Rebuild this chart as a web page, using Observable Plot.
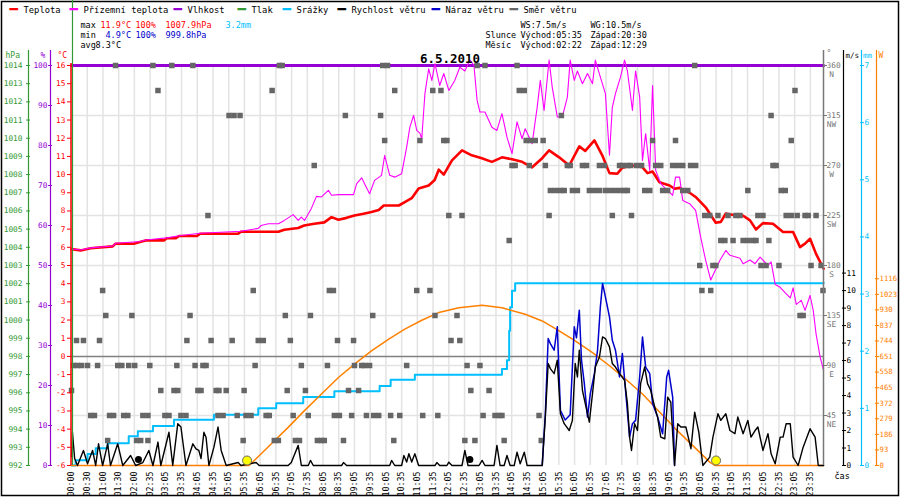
<!DOCTYPE html>
<html><head><meta charset="utf-8">
<script src="https://cdn.jsdelivr.net/npm/d3@7"></script>
<script src="https://cdn.jsdelivr.net/npm/@observablehq/plot@0.6"></script>
<style>body{margin:0;background:#fff}#chart svg{display:block}</style>
</head><body><div id="chart"></div>
<script>
// ---------- data ----------
const dayDate = "6.5.2010";
const dayStart = "00:00", dayEnd = "23:55";
const tempDomain = [-6, 16];
const timeLabels = ["00:00","00:30","01:00","01:30","02:00","02:35","03:05","03:35","04:05","04:35","05:05","05:35","06:05","06:35","07:05","07:35","08:05","08:35","09:05","09:35","10:05","10:35","11:05","11:35","12:05","12:35","13:05","13:35","14:05","14:35","15:05","15:35","16:05","16:35","17:05","17:35","18:05","18:35","19:05","19:35","20:05","20:35","21:05","21:35","22:05","22:35","23:05","23:35"];
const labelStepHours = 0.5;

const tempTimes = [0.00,0.29,0.61,1.31,1.40,1.98,2.20,2.36,2.94,3.03,3.32,3.42,3.99,4.09,5.30,5.39,6.58,6.77,7.21,7.40,7.72,8.04,8.27,8.49,8.75,9.00,9.29,9.54,9.77,9.93,10.41,10.60,10.82,11.04,11.36,11.55,11.68,11.84,12.10,12.42,12.73,13.05,13.37,13.69,14.01,14.33,14.65,14.97,15.19,15.51,15.83,16.15,16.34,16.63,16.88,17.11,17.36,17.52,17.84,18.16,18.32,18.48,18.70,19.02,19.18,19.34,19.66,19.85,20.17,20.49,20.65,20.81,21.13,21.35,21.58,21.77,21.99,22.31,22.63,22.95,23.17,23.33,23.49,23.68,23.92];
const tempValues = [5.9,5.83,5.95,6.05,6.2,6.2,6.3,6.38,6.38,6.5,6.5,6.62,6.62,6.75,6.75,6.86,6.86,6.97,7.06,7.2,7.3,7.37,7.66,7.52,7.62,7.75,7.85,7.94,8.05,8.3,8.3,8.49,8.7,9.24,9.4,9.7,10.27,10.0,10.78,11.33,11.06,10.9,10.7,10.95,10.84,10.7,10.4,10.9,11.33,10.95,10.5,11.55,11.3,11.88,11.06,10.08,10.05,10.38,10.5,10.4,10.08,10.17,9.58,9.4,9.22,9.27,9.0,8.77,8.2,7.35,7.4,7.86,7.75,7.75,7.48,6.98,7.33,7.3,6.84,6.84,6.01,6.2,6.47,5.64,4.82];

const feelTimes = [0.00,0.29,0.61,1.31,1.40,2.20,2.36,3.03,3.42,4.09,5.39,5.94,6.03,6.26,6.58,6.77,7.05,7.21,7.31,7.41,7.63,7.79,7.95,8.17,8.27,8.49,8.81,8.97,9.07,9.23,9.32,9.48,9.64,9.86,9.96,10.12,10.28,10.50,10.66,10.76,10.88,10.98,11.08,11.14,11.24,11.36,11.46,11.56,11.71,11.84,12.00,12.19,12.35,12.51,12.67,12.80,12.90,12.99,13.15,13.37,13.53,13.69,13.85,14.01,14.17,14.33,14.43,14.65,14.81,14.91,15.03,15.19,15.29,15.45,15.61,15.77,15.86,15.99,16.09,16.25,16.41,16.57,16.66,16.82,16.98,17.11,17.20,17.30,17.46,17.59,17.68,17.84,17.94,18.07,18.16,18.26,18.39,18.48,18.58,18.74,18.90,19.12,19.21,19.34,19.44,19.66,19.85,20.01,20.17,20.33,20.62,20.81,20.94,21.26,21.36,21.58,21.74,21.90,22.15,22.25,22.38,22.54,22.70,22.86,22.95,23.05,23.21,23.33,23.49,23.59,23.68,23.81,23.92];
const feelValues = [5.92,5.85,5.97,6.07,6.22,6.32,6.4,6.52,6.64,6.77,6.88,7.04,7.2,7.3,7.3,7.48,7.8,7.48,7.66,7.48,8.14,8.8,8.77,9.13,8.86,8.9,8.9,8.9,9.5,9.82,9.5,8.95,9.68,9.96,11.06,9.96,9.86,10.05,11.51,12.6,13.26,12.43,12.28,11.97,14.45,15.82,15.18,16.1,14.9,15.56,14.63,15.18,15.9,15.7,16.3,16.0,14.08,13.44,13.44,12.6,12.43,13.35,12.06,11.15,12.9,11.97,12.52,11.7,13.7,15.18,13.53,16.3,14.8,13.17,13.17,14.26,16.3,15.18,15.7,15.0,15.56,15.0,16.3,15.36,14.45,11.06,13.7,14.45,15.36,16.3,15.7,13.53,15.7,14.26,10.78,12.25,10.23,14.9,10.23,9.5,9.22,8.86,9.86,9.86,8.58,8.4,8.03,6.56,5.28,4.2,5.28,5.83,5.56,5.4,5.1,5.3,5.1,5.46,5.0,5.2,3.96,3.8,3.5,3.22,3.77,2.86,3.08,2.53,3.35,2.53,1.24,-0.04,-0.77];

const humTimes = [0.00, 23.92];
const humValues = [100, 100];

const rainTimes = [0,0.13,0.51,0.77,1.15,1.82,2.11,2.59,3.26,4.53,5.94,6.51,7.37,8.36,9.80,10.15,10.92,13.69,13.85,13.92,13.95,14.01,14.11,23.92];
const rainValues = [0,0.09,0.2,0.3,0.39,0.51,0.6,0.69,0.8,0.89,1.0,1.09,1.2,1.3,1.39,1.5,1.59,1.69,1.84,2.36,2.77,3.06,3.19,3.2];

const solarTimes = [0,5.65,6.35,6.89,7.41,7.95,8.49,9.00,9.54,10.09,10.60,11.14,11.68,12.32,13.06,13.69,14.43,14.97,15.51,16.02,16.57,17.11,17.62,18.16,18.71,19.21,19.76,20.30,20.46,23.92];
const solarValues = [0,0,129,228,328,427,526,606,685,755,815,868,914,943,958,943,904,864,805,745,675,596,517,427,318,219,119,20,0,0];

const windTimes = [0.00,0.03,0.10,0.19,0.38,0.51,0.67,0.77,0.86,0.99,1.15,1.24,1.47,1.63,1.88,2.04,2.27,2.46,2.59,2.75,2.84,3.10,3.22,3.38,3.48,3.64,3.86,3.96,4.05,4.12,4.21,4.28,4.37,4.53,4.66,4.76,4.92,5.30,5.39,5.87,5.97,6.89,6.99,7.21,7.31,7.53,7.60,7.69,8.59,8.65,8.75,10.12,10.18,10.28,10.50,10.57,10.66,10.73,10.82,10.92,11.04,11.56,11.62,11.71,11.94,12.00,12.10,12.42,12.51,12.61,12.96,13.06,13.15,13.44,13.53,13.63,13.76,13.85,13.95,14.08,14.17,14.27,14.40,14.49,14.97,15.07,15.16,15.23,15.35,15.45,15.55,15.67,15.83,15.93,16.02,16.09,16.15,16.25,16.34,16.47,16.57,16.66,16.79,16.89,16.98,17.11,17.20,17.30,17.43,17.59,17.68,17.75,17.81,17.91,18.00,18.10,18.23,18.32,18.42,18.55,18.64,18.74,18.87,18.96,19.06,19.18,19.28,19.38,19.54,19.70,19.82,19.95,20.08,20.30,20.40,20.56,20.65,20.81,20.94,21.10,21.19,21.36,21.51,21.61,21.74,21.83,21.99,22.15,22.25,22.38,22.54,22.63,22.73,22.86,22.95,23.11,23.27,23.49,23.65,23.75,23.92];
const windValues = [0.5,1.9,0.4,0,0.86,0.1,0.86,0,1.24,0,1.24,0,1.24,0,0.57,0,0.17,0.86,0,1.34,0,1.9,0,2.39,2.2,0,1.24,0.95,0.86,0.4,1.9,1.6,0,1.05,2.2,0.86,0,0.17,0,0.17,0,0,0.17,1.15,0,0,0.29,0,0,0.17,0,0,0.29,0,0,0.57,0.2,0.67,0.2,0.67,0,0,0.17,0,0,0.19,0,0,0.86,0,0,0.29,0,0,1.15,0,0,0.57,0,0,0.76,0.1,0.76,0,0,2.77,5.83,5.54,5.25,6.02,2.96,2.39,2.0,2.58,5.83,5.06,6.59,4.3,3.54,2.48,4.11,5.63,6.2,7.35,7.26,6.78,5.83,5.63,5.25,4.87,3.54,1.62,0.86,2.39,2.0,4.68,5.63,4.68,4.3,3.34,2.77,1.62,1.53,3.91,3.63,0,2.39,2.2,2.2,0.96,3.05,1.91,0,0.48,1.62,2.96,2.58,2.96,2.0,1.82,2.77,1.82,2.58,1.62,2.0,2.2,0.86,1.82,0.67,0.1,1.62,1.62,2.39,2.39,0.48,0,1.05,2.1,1.62,0,0];

const gustTimes = [14.97,15.07,15.16,15.23,15.35,15.45,15.55,15.70,15.86,15.99,16.06,16.15,16.22,16.31,16.41,16.50,16.63,16.73,16.82,16.89,16.98,17.11,17.20,17.30,17.43,17.52,17.62,17.75,17.84,17.94,18.07,18.16,18.26,18.39,18.48,18.64,18.80,18.93,18.99,19.12,19.18];
const gustValues = [0,2.96,7.26,6.97,6.59,7.93,3.15,2.6,2.9,7.93,7.3,8.88,6.02,4.68,2.77,4.11,5.25,6.59,9.07,10.41,9.64,8.5,7.16,6.59,5.06,6.4,4.3,1.62,2.39,2.58,5.06,7.35,5.63,5.25,3.54,2.77,1.82,5.06,5.44,3.91,0];

const dirSectors = [360, 337.5, 315, 292.5, 270, 247.5, 225, 202.5, 180, 157.5, 135, 112.5, 90, 67.5, 45, 22.5];
const dirSectorTimes = [
  [1.40,2.59,3.19,3.86,6.61,6.70,9.90,10.05,12.90,13.15,14.17,19.82],
  [2.75,6.38,10.28,11.49,11.75,14.24,14.40,23.01],
  [5.01,5.17,5.36,8.71,9.83,15.58,22.25],
  [9.96,11.08,11.84,11.94,14.46,14.59,14.75,15.00,18.48,19.21,22.89],
  [7.72,14.01,14.11,14.56,15.07,15.77,15.86,16.25,16.38,16.79,16.95,17.43,17.52,17.68,17.78,17.97,18.13,18.58,18.74,19.12,19.28,19.44,19.69,19.85,22.31,22.41],
  [15.23,15.39,15.55,15.67,15.93,16.09,16.47,16.63,16.79,16.98,17.14,17.30,17.46,17.59,17.68,18.23,18.39,18.80,18.96,19.44,19.60,21.51,22.57,22.70],
  [4.34,12.00,12.42,15.19,17.20,17.81,20.14,20.30,20.56,20.88,21.13,21.26,21.83,21.99,22.73,22.89,23.08,23.33,23.43,23.68],
  [13.92,20.65,20.78,21.04,21.36,21.51,21.67,21.77,22.18],
  [19.98,20.40,20.49,21.93,22.09,22.50,23.52,23.84],
  [0.99,5.78,8.20,8.33,10.98,11.40,20.05,20.33,23.90],
  [1.09,1.92,3.77,6.80,7.60,9.58,11.56,12.26,23.17,23.27],
  [0.16,0.38,0.89,3.67,4.44,5.11,5.94,6.10,6.96,8.46,8.97,12.07,12.35],
  [0.06,0.19,0.32,0.51,0.83,1.47,1.60,1.82,2.01,2.49,3.35,3.93,4.18,4.28,5.84,7.31,8.14,9.00,9.23,9.32,9.48,10.66,12.58,12.99],
  [0.00,2.84,3.26,3.38,4.02,4.12,4.60,4.69,4.92,5.49,6.86,7.44,8.81,9.13,12.70,13.28],
  [0.61,0.73,1.21,1.34,1.66,1.79,2.27,2.43,2.97,3.10,3.48,3.64,4.66,4.82,5.27,5.55,5.71,6.19,6.29,7.05,7.53,8.36,8.52,8.91,9.38,9.61,9.77,10.15,10.44,11.17,11.65,13.09,13.47,13.60,13.69,14.87],
  [1.15,2.07,2.20,2.43,5.46,6.45,6.58,7.12,7.25,7.82,7.95,8.04,8.65,10.25,12.51,12.83,13.76,14.94]
];

const blobTimes = [2.13, 12.67];
const blobValues = [0.35, 0.35];

const sunEvents = ["05:35", "20:30"];
const moonEvents = ["02:22", "12:29"];
const maxWind = "7.5", maxGust = "10.5";
const statMax = ["11.9°C", "100%", "1007.9hPa", "3.2mm"];
const statMin = ["4.9°C", "100%", "999.8hPa"];
const statAvg = ["8.3°C"];

const hpaTicks = d3.range(992, 1015, 1);
const pctTicks = d3.range(0, 101, 10);
const degCTicks = d3.range(-6, 17, 1);
const dirAxisTicks = [45, 90, 135, 180, 225, 270, 315, 360];
const dirAxisNames = ["NE", "E", "SE", "S", "SW", "W", "NW", "N"];
const msTicks = d3.range(0, 12, 1);
const mmTicks = d3.range(0, 8, 1);
const wTicks = d3.range(0, 1117, 93);

const legendItems = ["Teplota", "Přízemní teplota", "Vlhkost", "Tlak", "Srážky", "Rychlost větru", "Náraz větru", "Směr větru"];
const legendColors = ["#ff0000", "#ff00ff", "#9400d3", "#339933", "#00bfff", "#000000", "#0000cc", "#666666"];

// ---------- conversions onto the °C axis (secondary axes) ----------
const pressureAtZero = 998;            // hPa on the 0 °C line
const fromHpa = p => p - pressureAtZero;
const fromPct = p => -6 + p * 0.22;
const fromDeg = d => -6 + d * 22 / 360;
const fromMs = v => -6 + v * 0.962;
const fromMm = m => -6 + m * 22 / 7;
const fromW = w => -6 + w * 10.27 / 1116;

const hours = s => { const [h, m] = s.split(":").map(Number); return h + m / 60; };
const timeDomain = [hours(dayStart), hours(dayEnd)];
const rows = (ts, vs) => ts.map((t, i) => ({t, v: vs[i]}));

const tempData = rows(tempTimes, tempValues);
const feelData = rows(feelTimes, feelValues);
const humData = rows(humTimes, humValues);
const rainData = rows(rainTimes, rainValues);
const solarData = rows(solarTimes, solarValues);
const windData = rows(windTimes, windValues);
const gustData = rows(gustTimes, gustValues);
const blobData = rows(blobTimes, blobValues);
const dirData = dirSectors.flatMap((deg, k) => dirSectorTimes[k].map(t => ({t, v: deg})));
const sunData = sunEvents.map(s => ({t: hours(s), v: 0}));
const xTicks = timeLabels.map((_, i) => i * labelStepHours);

// ---------- layout ----------
const M = {left: 71, right: 77, top: 65, bottom: 35};
const FONT = "'DejaVu Sans Mono', monospace";
const FS = 8.5;   // header / legend text
const TFS = 7.8;  // tick labels

function label(str, px, py, opts = {}) {
  return Plot.text([str], {text: d => d, frameAnchor: "top-left", dx: px - M.left, dy: py - M.top,
    textAnchor: "start", lineAnchor: "bottom", fontSize: FS, fill: "#000", ...opts});
}

const legendX = [10, 70, 174, 238, 283, 338, 432, 510];
const legendMarks = legendItems.flatMap((name, i) => [
  label("━", legendX[i] - 1, 13.5, {fill: legendColors[i], fontSize: 14}),
  label(name, legendX[i] + 13, 12.5, {fontSize: 8.8})
]);

const xStart = timeDomain[0], xEnd = timeDomain[1];

const chart = Plot.plot({
  width: 900, height: 500,
  marginLeft: M.left, marginRight: M.right, marginTop: M.top, marginBottom: M.bottom,
  style: {fontFamily: FONT, fontSize: FS + "px", background: "#fff", overflow: "visible"},
  x: {domain: timeDomain, axis: null},
  y: {domain: tempDomain, axis: null},
  marks: [
    Plot.frame({stroke: "#000", strokeWidth: 1.5, insetLeft: -70, insetTop: -64, insetRight: -75, insetBottom: -30}),
    Plot.gridX(xTicks, {stroke: "#e3e3e3", strokeOpacity: 1, strokeWidth: 1.5}),
    Plot.gridY(dirAxisTicks.filter(d => d < 360).map(fromDeg), {stroke: "#e3e3e3", strokeOpacity: 1, strokeWidth: 1.5}),
    Plot.ruleY([0], {stroke: "#808080", strokeWidth: 1.5}),
    Plot.line(rainData, {x: "t", y: d => fromMm(d.v), stroke: "#00bfff", strokeWidth: 2, curve: "step-after"}),
    Plot.line(solarData, {x: "t", y: d => fromW(d.v), stroke: "#ff8000", strokeWidth: 1.5}),
    Plot.line(humData, {x: "t", y: d => fromPct(d.v), stroke: "#9400d3", strokeWidth: 3}),
    Plot.line(tempData, {x: "t", y: "v", stroke: "#ff0000", strokeWidth: 2.6}),
    Plot.line(feelData, {x: "t", y: "v", stroke: "#ff00ff", strokeWidth: 1.1}),
    Plot.dot(dirData, {x: "t", y: d => fromDeg(d.v), symbol: "square", r: 3.1, fill: "#666", stroke: "none"}),
    Plot.line(gustData, {x: "t", y: d => fromMs(d.v), stroke: "#0000cc", strokeWidth: 1.5}),
    Plot.line(windData, {x: "t", y: d => fromMs(d.v), stroke: "#000", strokeWidth: 1.4}),
    Plot.dot(blobData, {x: "t", y: d => fromMs(d.v), r: 3.5, fill: "#000"}),
    Plot.dot(sunData, {x: "t", y: d => fromW(d.v), dy: -5, r: 4.5, fill: "#ffff00", stroke: "#666", strokeWidth: 1}),

    // axis lines
    Plot.ruleX([xStart], {dx: 1, insetTop: -65, stroke: "#339933", strokeWidth: 1.2}),
    Plot.ruleX([xStart], {dx: -0.5, insetTop: -2, stroke: "#ff0000", strokeWidth: 1.5}),
    Plot.ruleX([xStart], {dx: -21, insetTop: -15, stroke: "#9400d3", strokeWidth: 1.2}),
    Plot.ruleX([xStart], {dx: -43, insetTop: -15, stroke: "#339933", strokeWidth: 1.2}),
    Plot.ruleX([xEnd], {dx: 0, insetTop: -15, stroke: "#777", strokeWidth: 1.5}),
    Plot.ruleX([xEnd], {dx: 20, insetTop: -15, stroke: "#000", strokeWidth: 1.2}),
    Plot.ruleX([xEnd], {dx: 38, insetTop: -15, stroke: "#00bfff", strokeWidth: 1.2}),
    Plot.ruleX([xEnd], {dx: 53, insetTop: -15, stroke: "#ff8000", strokeWidth: 1.2}),

    // left axes
    Plot.axisY(hpaTicks.map(fromHpa), {anchor: "left", dx: -41, tickSize: 4, tickPadding: 4, label: null,
      tickFormat: d => String(Math.round(d + pressureAtZero)), color: "#339933", fontSize: TFS}),
    Plot.axisY(pctTicks.map(fromPct), {anchor: "left", dx: -19, tickSize: 4, tickPadding: 1, label: null,
      tickFormat: d => String(Math.round((d + 6) / 0.22)), color: "#9400d3", fontSize: TFS}),
    Plot.axisY(degCTicks, {anchor: "left", dx: 0, tickSize: 4, tickPadding: 2, label: null,
      tickFormat: d => String(d), color: "#ff0000", fontSize: TFS}),

    // right axes
    Plot.axisY(dirAxisTicks.map(fromDeg), {anchor: "right", dx: 0, tickSize: 3, tickPadding: 0, label: null,
      tickFormat: d => String(Math.round((d + 6) * 360 / 22)), color: "#777", fontSize: TFS}),
    Plot.text(dirAxisTicks, {y: d => fromDeg(d), text: (d, i) => dirAxisNames[i], frameAnchor: "right",
      dx: 8, dy: 9, textAnchor: "middle", fill: "#777", fontSize: TFS}),
    Plot.axisY(msTicks.map(fromMs), {anchor: "right", dx: 18, tickSize: 4, tickPadding: 1, label: null,
      tickFormat: d => String(Math.round((d + 6) / 0.962)), color: "#000", fontSize: TFS}),
    Plot.axisY(mmTicks.map(fromMm), {anchor: "right", dx: 36, tickSize: 4, tickPadding: 1, label: null,
      tickFormat: d => String(Math.round((d + 6) * 7 / 22)), color: "#00bfff", fontSize: TFS}),
    Plot.axisY(wTicks.map(fromW), {anchor: "right", dx: 51, tickSize: 4, tickPadding: 1, label: null,
      tickFormat: d => String(Math.round((d + 6) * 1116 / 10.27)), color: "#ff8000", fontSize: 7.3}),

    // x axis
    Plot.axisX(xTicks, {anchor: "bottom", tickSize: 0, tickPadding: 6, tickRotate: -90, label: null,
      tickFormat: d => timeLabels[Math.round(d / labelStepHours)], fontSize: 8.3}),

    // axis headers
    label("hPa", 5, 57.5, {fill: "#339933", fontSize: 8}),
    label("%", 40, 57.5, {fill: "#9400d3", fontSize: 8}),
    label("°C", 57, 57.5, {fill: "#ff0000", fontSize: 8}),
    label("°", 826, 55, {fill: "#777", fontSize: 8}),
    label("m/s", 845, 57.5, {fontSize: 7.5}),
    label("mm", 862.5, 57.5, {fill: "#00bfff", fontSize: 7.5}),
    label("W", 878, 57.5, {fill: "#ff8000", fontSize: 8}),
    label("čas", 834, 478),

    // title
    Plot.text([dayDate], {text: d => d, frameAnchor: "top", dx: 2.5, dy: -3, lineAnchor: "bottom",
      fontWeight: "bold", fontSize: 12.5, fill: "#000"}),

    // stats
    label("max", 80, 27.5), label(statMax[0], 100, 27.5, {fill: "#ff0000"}),
    label(statMax[1], 135, 27.5, {fill: "#ff0000"}), label(statMax[2], 165, 27.5, {fill: "#ff0000"}),
    label(statMax[3], 225, 27.5, {fill: "#00bfff"}),
    label("min", 80, 37.5), label(statMin[0], 105, 37.5, {fill: "#0000cc"}),
    label(statMin[1], 135, 37.5, {fill: "#0000cc"}), label(statMin[2], 165, 37.5, {fill: "#0000cc"}),
    label("avg", 80, 47.5), label(statAvg[0], 95, 47.5),
    label(`WS:${maxWind}m/s`, 520, 27.5), label(`WG:${maxGust}m/s`, 590, 27.5),
    label("Slunce", 485, 37.5), label(`Východ:${sunEvents[0]}`, 520, 37.5), label(`Západ:${sunEvents[1]}`, 590, 37.5),
    label("Měsíc", 485, 47.5), label(`Východ:${moonEvents[0]}`, 520, 47.5), label(`Západ:${moonEvents[1]}`, 590, 47.5),

    ...legendMarks
  ]
});
document.getElementById("chart").append(chart);
</script></body></html>
